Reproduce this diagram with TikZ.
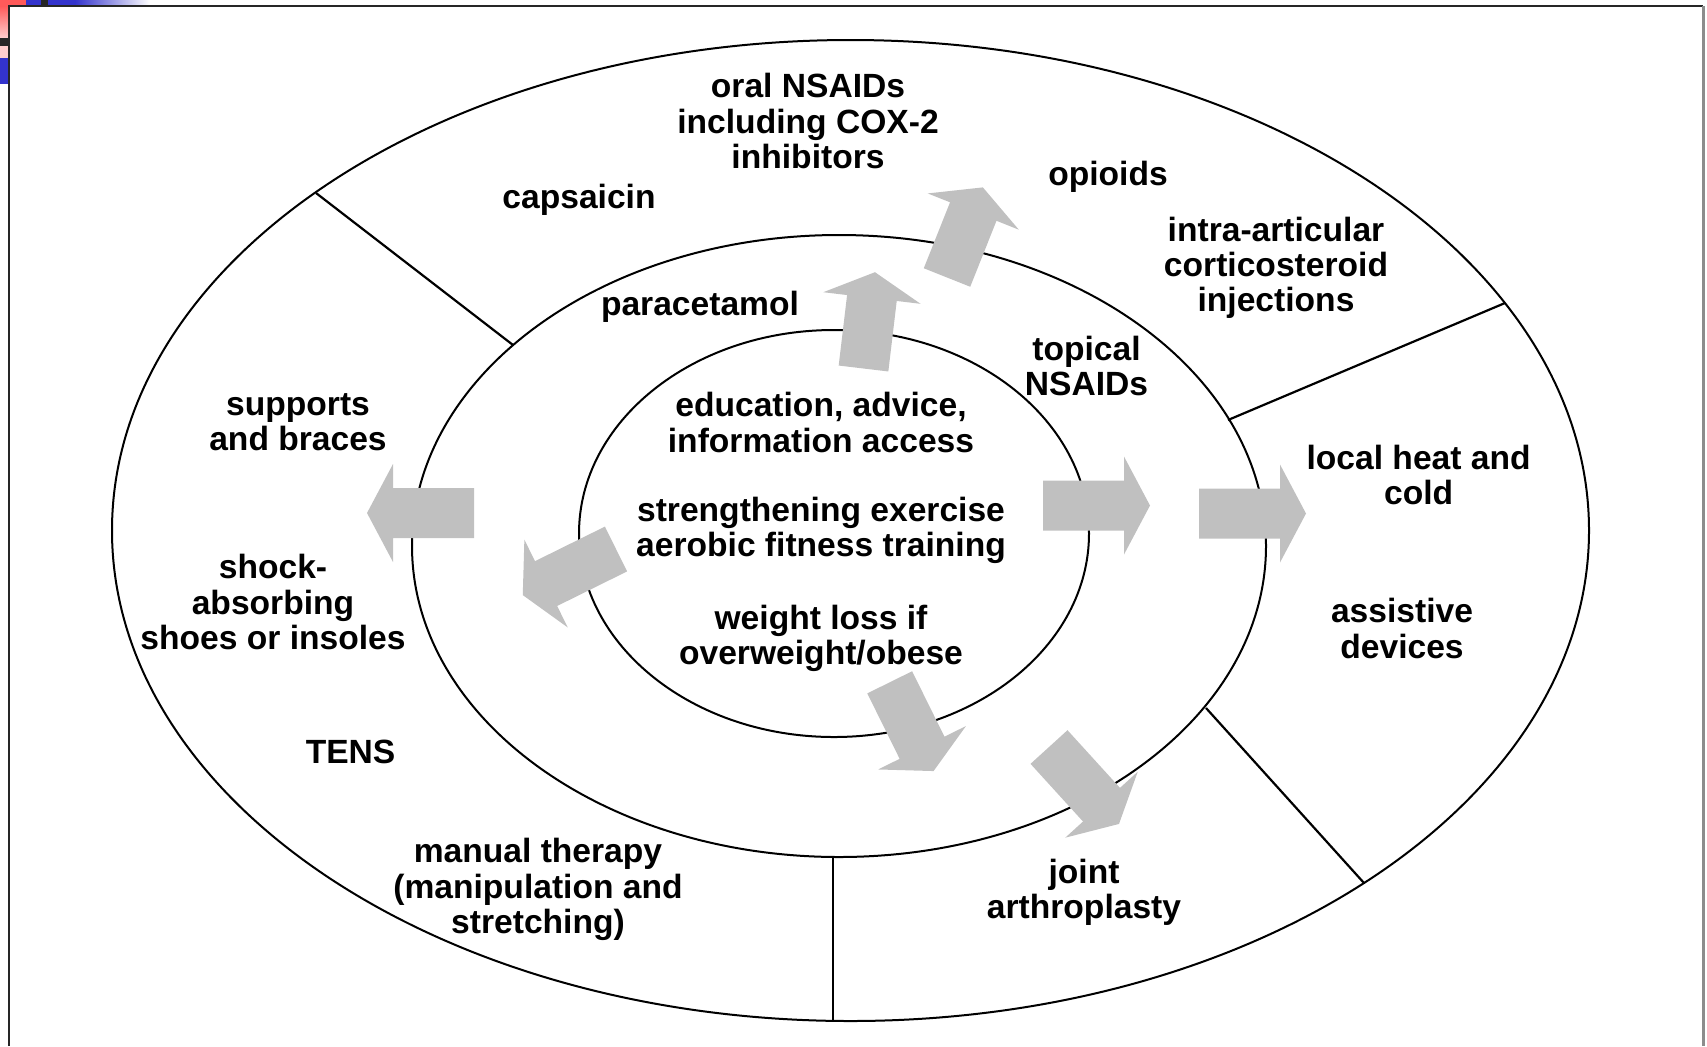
\documentclass[tikz,border=0pt]{standalone}
\usepackage{fontspec}
\setmainfont{Liberation Sans}
\usetikzlibrary{positioning}

\definecolor{arrowgray}{HTML}{C0C0C0}
\definecolor{slidered}{HTML}{FF5A5A}
\definecolor{slideblue}{HTML}{3333CC}

\tikzset{
  txt/.style={align=center, inner sep=0pt, font=\fontsize{16.8}{17.6}\selectfont\bfseries},
  ring/.style={line width=1pt},
  divider/.style={line width=1.1pt},
  blockfill/.style={fill=arrowgray, draw=none}
}

% block arrow: back middle point, direction angle, length
\newcommand{\blockarrow}[3]{%
  \path[blockfill, shift={#1}, rotate=#2]
    (0,-25) -- (#3-26,-25) -- (#3-26,-49) -- (#3,0) -- (#3-26,49) -- (#3-26,25) -- (0,25) -- cycle;}

\begin{document}
\begin{tikzpicture}[x=0.5pt,y=-0.5pt]
\useasboundingbox (0,0) rectangle (1707,1046);

% slide frame and corner marks
\fill[slidered] (0,0) rectangle (26,6);
\shade[top color=slidered, bottom color=slidered!30] (0,6) rectangle (9,38);
\fill[black!85] (0,38) rectangle (9,46);
\fill[slidered!30] (0,46) rectangle (9,58);
\fill[slideblue] (0,58) rectangle (9,84);
\fill[slideblue] (26,0) rectangle (75,6);
\shade[left color=slideblue, right color=white] (75,0) rectangle (150,6);
\fill[black!85] (41,0) rectangle (48,6);
\draw[line width=1pt, black!85] (9,1046) -- (9,6) -- (1703,6);
\draw[line width=1.5pt, black!45] (1703,6) -- (1703,1046);

% rings
\draw[ring] (850.5,530.5) ellipse [x radius=738.5, y radius=490.5];
\draw[ring] (839,546) ellipse [x radius=427, y radius=311];
\draw[ring] (834,533.5) ellipse [x radius=255, y radius=203.5];

% sector dividers
\draw[divider] (316,193) -- (513,345);
\draw[divider] (1228,420) -- (1505,303);
\draw[divider] (1206,708) -- (1364,883);
\draw[divider] (833,857) -- (833,1021);

% arrows
\blockarrow{(474,513)}{180}{107}
\blockarrow{(1043,505.5)}{0}{107}
\blockarrow{(1199,513.5)}{0}{107}
\blockarrow{(863.5,368.5)}{83.2}{97}
\blockarrow{(947,277.5)}{68.3}{97}
\blockarrow{(616,549)}{206.3}{104}
\blockarrow{(889.7,682.3)}{-63.7}{99}
\blockarrow{(1049,747)}{-47.7}{104}

% texts
\node[txt] (oral)     at (808,121)   {oral NSAIDs\\including COX-2\\inhibitors};
\node[txt] (capsaicin) at (579,199.5) {capsaicin};
\node[txt] (opioids)  at (1108,177)  {opioids};
\node[txt] (intra)    at (1276,268)  {intra-articular\\corticosteroid\\injections};
\node[txt] (para)     at (700,307)   {paracetamol};
\node[txt] (topical)  at (1086.5,366) {topical\\NSAIDs};
\node[txt] (supports) at (298,422)   {supports\\and braces};
\node[txt] (educ)     at (821,422.5) {education, advice,\\information access};
\node[txt] (heat)     at (1418.6,475) {local heat and\\cold};
\node[txt] (exercise) at (821,530.5) {strengthening exercise\\aerobic fitness training};
\node[txt] (shock)    at (273,602)   {shock-\\absorbing\\shoes or insoles};
\node[txt] (weight)   at (821,638)   {weight loss if\\overweight/obese};
\node[txt] (assist)   at (1402,628.5) {assistive\\devices};
\node[txt] (tens)     at (350.6,752) {TENS};
\node[txt] (manual)   at (538,889.5) {manual therapy\\(manipulation and\\stretching)};
\node[txt] (joint)    at (1084,892.5) {joint\\arthroplasty};
\end{tikzpicture}
\end{document}
